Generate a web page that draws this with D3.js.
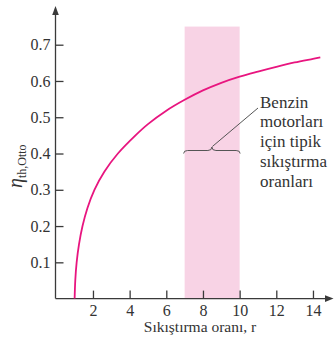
<!DOCTYPE html>
<html><head><meta charset="utf-8">
<script src="https://cdn.jsdelivr.net/npm/d3@7"></script>
<style>
html,body{margin:0;padding:0;background:#fff;}
svg{display:block;}
text{font-family:"Liberation Serif","Times New Roman","DejaVu Serif",serif;fill:#333;}
</style></head>
<body><svg id="c" width="334" height="337"></svg>
<script>
const ratios = [1.0, 1.035, 1.11, 1.24, 1.43, 1.70, 2.08, 2.62, 3.36, 4.32, 5.0, 6.0, 7.0, 8.0, 9.0, 10.0, 11.0, 12.0, 13.0, 14.0, 14.4];
const efficiency = [0, 0.05, 0.10, 0.15, 0.20, 0.25, 0.30, 0.35, 0.40, 0.45, 0.481, 0.518, 0.548, 0.574, 0.595, 0.612, 0.626, 0.639, 0.651, 0.661, 0.665];
const xTicks = [2, 4, 6, 8, 10, 12, 14];
const yTicks = [0.1, 0.2, 0.3, 0.4, 0.5, 0.6, 0.7];
const bandRange = [7, 10];
const bandTop = 0.75;
const noteLines = ["Benzin", "motorları", "için tipik", "sıkıştırma", "oranları"];
const xTitle = "Sıkıştırma oranı, r";

const svg = d3.select("#c");
const x = d3.scaleLinear().domain([0, 15]).range([56.3, 331.3]);
const y = d3.scaleLinear().domain([0, 0.7]).range([298.6, 44.7]);
const axisColor = "#3a3a3a";
const serif = '"Liberation Serif","Times New Roman",serif';

// band
svg.append("rect")
  .attr("x", x(bandRange[0])).attr("y", y(bandTop))
  .attr("width", x(bandRange[1]) - x(bandRange[0]))
  .attr("height", y(0) - y(bandTop))
  .attr("fill", "#f8d3e5");

// axes
const gx = svg.append("g").attr("transform", `translate(0,${y(0)})`)
  .call(d3.axisBottom(x).tickValues(xTicks).tickSize(-8).tickPadding(6.5).tickFormat(d3.format("d")));
const gy = svg.append("g").attr("transform", `translate(${x(0) - 0.8},0)`)
  .call(d3.axisLeft(y).tickValues(yTicks).tickSize(-8).tickPadding(5).tickFormat(d3.format(".1f")));
[gx, gy].forEach(g => {
  g.attr("font-family", serif);
  g.select(".domain").remove();
  g.selectAll(".tick line").attr("stroke", axisColor).attr("stroke-width", 1.3);
  g.selectAll(".tick text").attr("fill", "#333").style("font-family", serif).style("font-size", "16px");
});

// axis lines with arrows
const x0 = x(0) - 0.8, y0 = y(0);
svg.append("line").attr("x1", x0).attr("y1", y0).attr("x2", 328).attr("y2", y0)
  .attr("stroke", axisColor).attr("stroke-width", 1.3);
svg.append("path").attr("d", `M333.5,${y0} L325,${y0 - 3.3} L325,${y0 + 3.3} Z`).attr("fill", axisColor);
svg.append("line").attr("x1", x0).attr("y1", y0).attr("x2", x0).attr("y2", 12)
  .attr("stroke", axisColor).attr("stroke-width", 1.3);
svg.append("path").attr("d", `M${x0},6 L${x0 - 3.3},15 L${x0 + 3.3},15 Z`).attr("fill", axisColor);

// curve
const pts = ratios.map((r, i) => [r, efficiency[i]]);
svg.append("path").datum(pts)
  .attr("fill", "none").attr("stroke", "#e8157f").attr("stroke-width", 1.8)
  .attr("d", d3.line().x(d => x(d[0])).y(d => y(d[1])).curve(d3.curveCatmullRom.alpha(0.5)));

// brace
const bx1 = x(bandRange[0]) - 1, bx2 = x(bandRange[1]) + 0.5, bm = (bx1 + bx2) / 2, by = 150.5;
svg.append("path")
  .attr("d", `M${bx1},${by + 3} Q${bx1},${by} ${bx1 + 4},${by} L${bm - 4},${by} Q${bm},${by} ${bm},${by - 3.5} Q${bm},${by} ${bm + 4},${by} L${bx2 - 4},${by} Q${bx2},${by} ${bx2},${by + 3}`)
  .attr("fill", "none").attr("stroke", "#555").attr("stroke-width", 1);
svg.append("line").attr("x1", bm + 0.5).attr("y1", by - 4).attr("x2", 258).attr("y2", 108)
  .attr("stroke", "#555").attr("stroke-width", 1);

// note
svg.append("g").selectAll("text").data(noteLines).join("text")
  .attr("x", 260).attr("y", (d, i) => 107.5 + i * 19.8)
  .style("font-size", "17px").attr("fill", "#333").text(d => d);

// x title
svg.append("text").attr("x", 200).attr("y", 332).attr("text-anchor", "middle")
  .style("font-size", "15.5px").attr("fill", "#333").text(xTitle);

// y title
const yt = svg.append("text").attr("transform", "translate(22,188) rotate(-90)").attr("fill", "#333");
yt.append("tspan").style("font-style", "italic").style("font-size", "20px").text("η");
yt.append("tspan").attr("dy", 4).style("font-size", "12px").text("th,Otto");
</script></body></html>
